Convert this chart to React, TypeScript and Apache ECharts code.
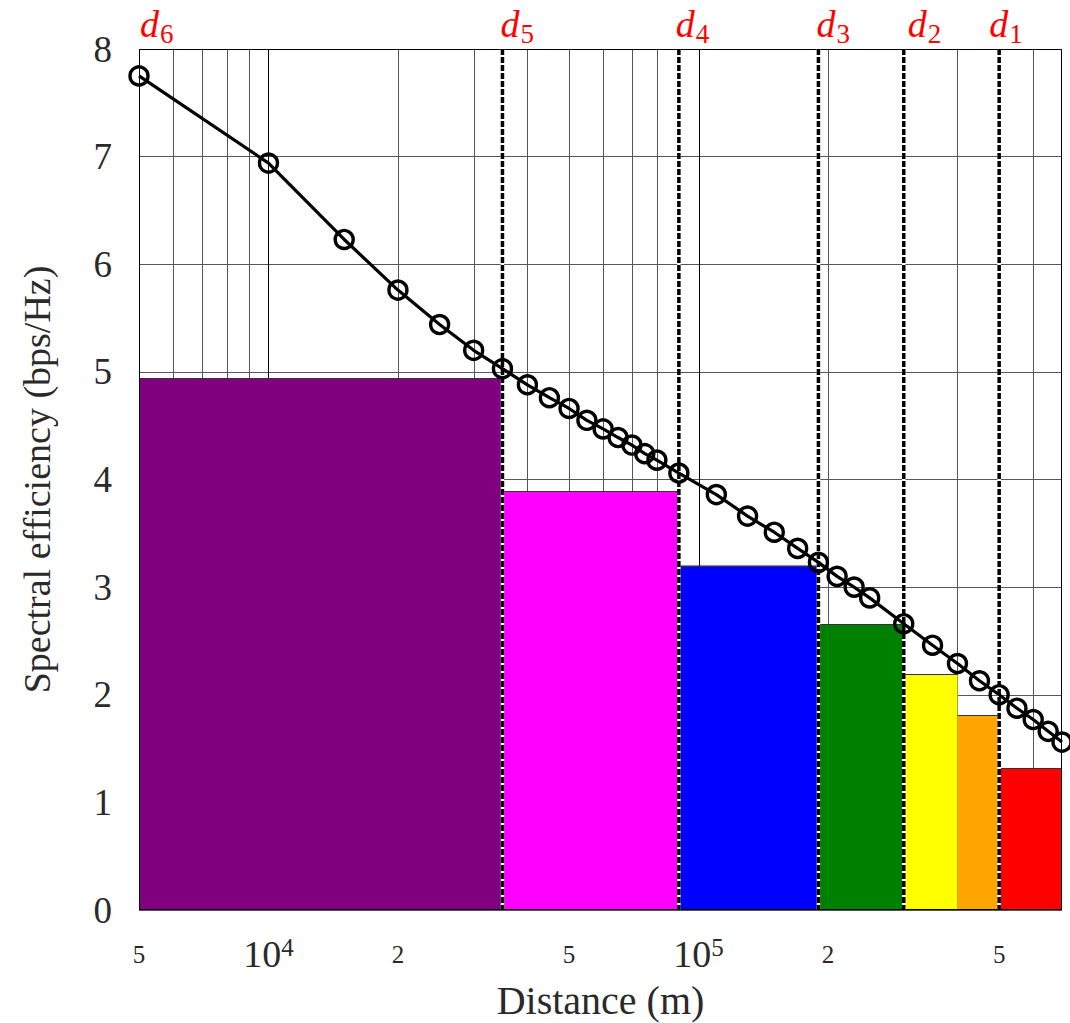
import React, { useEffect, useRef } from 'react';
import * as echarts from 'echarts';

// ---------- data ----------
const X_MIN = 5000;
const X_MAX = 700000;
const Y_MIN = 0;
const Y_MAX = 8;

const curveDistances = [
  5000, 10000, 15000, 20000, 25000, 30000, 35000, 40000, 45000, 50000,
  55000, 60000, 65000, 70000, 75000, 80000, 90000,
  110000, 130000, 150000, 170000, 190000, 210000, 230000, 250000,
  300000, 350000, 400000, 450000, 500000, 550000, 600000, 650000, 700000,
];
const curveEfficiency = [
  7.75, 6.94, 6.23, 5.76, 5.44, 5.2, 5.03, 4.88, 4.76, 4.66,
  4.55, 4.47, 4.39, 4.32, 4.24, 4.18, 4.06,
  3.86, 3.66, 3.51, 3.36, 3.23, 3.1, 3.0, 2.9,
  2.66, 2.46, 2.29, 2.13, 2.0, 1.875, 1.77, 1.66, 1.56,
];

const barStart = [5000, 35000, 90000, 190000, 300000, 400000, 500000];
const barEnd = [35000, 90000, 190000, 300000, 400000, 500000, 700000];
const barHeight = [4.94, 3.89, 3.2, 2.655, 2.19, 1.81, 1.32];
const barColors = ['#800080', '#ff00ff', '#0000ff', '#008000', '#ffff00', '#ffa500', '#ff0000'];

const thresholdNames = ['6', '5', '4', '3', '2', '1'];
const thresholdDistances = [5000, 35000, 90000, 190000, 300000, 500000];
const thresholdLabelDx = [1, -2, -3, -2, 4, -10];

const gridDistances = [
  6000, 7000, 8000, 9000, 10000,
  20000, 30000, 40000, 50000, 60000, 70000, 80000, 90000, 100000,
  200000, 300000, 400000, 500000, 600000,
];
const majorGrid = [10000, 100000];

const xTickValues = [5000, 10000, 20000, 50000, 100000, 200000, 500000];
const xTickTexts = ['5', '10^4', '2', '5', '10^5', '2', '5'];

const FONT = '"Liberation Serif", "Times New Roman", serif';
const TEXT_COLOR = '#2a2a2a';

function tickLabel(v: number): string {
  let best = 0;
  let bestDiff = Infinity;
  xTickValues.forEach((t, i) => {
    const d = Math.abs(Math.log10(v) - Math.log10(t));
    if (d < bestDiff) { bestDiff = d; best = i; }
  });
  const t = xTickTexts[best];
  if (t.indexOf('^') >= 0) {
    const [b, e] = t.split('^');
    return '{b|' + b + '}{s|' + e + '}';
  }
  return '{a|' + t + '}';
}

function measure(text: string, font: string): number {
  const c = document.createElement('canvas');
  const ctx = c.getContext('2d');
  if (!ctx) return 18;
  ctx.font = font;
  return ctx.measureText(text).width;
}

export default function App() {
  const ref = useRef<HTMLDivElement>(null);

  useEffect(() => {
    if (!ref.current) return;
    const chart = echarts.init(ref.current, undefined, { renderer: 'svg' });

    const dFont = 'italic 38px "Liberation Serif"';
    const subFont = '27px "Liberation Serif"';
    const dWidth = measure('d', dFont);

    const option: any = {
      animation: false,
      backgroundColor: '#fff',
      textStyle: { fontFamily: FONT },
      grid: {
        left: 139, top: 49, width: 923, height: 861,
        containLabel: false, outerBoundsMode: 'none',
      },
      xAxis: {
        type: 'log',
        logBase: 10,
        min: X_MIN,
        max: X_MAX,
        axisLine: { show: false },
        axisTick: { show: false },
        splitLine: { show: false },
        minorTick: { show: false },
        axisLabel: {
          customValues: xTickValues,
          formatter: (v: number) => tickLabel(v),
          margin: 25,
          color: TEXT_COLOR,
          rich: {
            a: { fontSize: 25, lineHeight: 38, fontFamily: FONT, color: TEXT_COLOR },
            b: { fontSize: 38, lineHeight: 38, fontFamily: FONT, color: TEXT_COLOR },
            s: { fontSize: 25, lineHeight: 25, fontFamily: FONT, color: TEXT_COLOR, verticalAlign: 'top' },
          },
        },
        name: 'Distance (m)',
        nameLocation: 'middle',
        nameGap: 70,
        nameTextStyle: { fontSize: 40, color: TEXT_COLOR, fontFamily: FONT, lineHeight: 40 },
      },
      yAxis: {
        type: 'value',
        min: Y_MIN,
        max: Y_MAX,
        interval: 1,
        axisLine: { show: false },
        axisTick: { show: false },
        splitLine: { show: true, lineStyle: { color: '#555', width: 1 } },
        axisLabel: { fontSize: 37, color: TEXT_COLOR, margin: 27, fontFamily: FONT },
        name: 'Spectral efficiency (bps/Hz)',
        nameLocation: 'middle',
        nameGap: 83,
        nameTextStyle: { fontSize: 38, color: TEXT_COLOR, fontFamily: FONT },
      },
      series: [
        {
          type: 'custom',
          name: 'grid',
          z: 1,
          silent: true,
          data: gridDistances.map((v) => [v, 0]),
          encode: { x: 0, y: 1 },
          renderItem: (params: any, api: any) => {
            const v = api.value(0);
            const p0 = api.coord([v, Y_MIN]);
            const p1 = api.coord([v, Y_MAX]);
            const x = Math.round(p0[0]) + 0.5;
            const major = majorGrid.indexOf(v) >= 0;
            return {
              type: 'line',
              shape: { x1: x, y1: p0[1], x2: x, y2: p1[1] },
              style: { stroke: major ? '#000' : '#555', lineWidth: 1 },
            };
          },
        },
        {
          type: 'custom',
          name: 'bars',
          z: 2,
          silent: true,
          data: barStart.map((s, i) => [s, barEnd[i], barHeight[i]]),
          encode: { x: [0, 1], y: 2 },
          renderItem: (params: any, api: any) => {
            const x0 = api.value(0);
            const x1 = api.value(1);
            const h = api.value(2);
            const tl = api.coord([x0, h]);
            const br = api.coord([x1, Y_MIN]);
            const top = Math.round(tl[1]) + 0.5;
            return {
              type: 'group',
              children: [
                {
                  type: 'rect',
                  shape: { x: tl[0], y: tl[1], width: br[0] - tl[0], height: br[1] - tl[1] },
                  style: { fill: barColors[params.dataIndex] },
                },
                {
                  type: 'line',
                  shape: { x1: tl[0], y1: top, x2: br[0], y2: top },
                  style: { stroke: '#333', lineWidth: 1 },
                },
              ],
            };
          },
        },
        {
          type: 'custom',
          name: 'frame',
          z: 3,
          silent: true,
          data: [[X_MIN, Y_MIN]],
          encode: { x: 0, y: 1 },
          renderItem: (params: any, api: any) => {
            const a = api.coord([X_MIN, Y_MAX]);
            const b = api.coord([X_MAX, Y_MIN]);
            const x0 = Math.round(a[0]) + 0.5;
            const y0 = Math.round(a[1]) + 0.5;
            const x1 = Math.round(b[0]) - 0.5;
            const y1 = Math.round(b[1]) - 0.5;
            return {
              type: 'rect',
              shape: { x: x0, y: y0, width: x1 - x0, height: y1 - y0 },
              style: { fill: 'none', stroke: '#000', lineWidth: 1 },
            };
          },
        },
        {
          type: 'custom',
          name: 'thresholds',
          z: 4,
          silent: true,
          data: thresholdDistances.map((v, i) => [v, Y_MAX, i]),
          encode: { x: 0, y: 1 },
          renderItem: (params: any, api: any) => {
            const v = api.value(0);
            const i = params.dataIndex;
            const pTop = api.coord([v, Y_MAX]);
            const pBot = api.coord([v, Y_MIN]);
            const x = pTop[0];
            const lx = x + thresholdLabelDx[i];
            const children: any[] = [
              {
                type: 'text',
                x: lx,
                y: 24,
                style: {
                  text: 'd',
                  font: dFont,
                  fill: '#ff0000',
                  align: 'left',
                  verticalAlign: 'middle',
                },
              },
              {
                type: 'text',
                x: lx + dWidth + 1,
                y: 34,
                style: {
                  text: thresholdNames[i],
                  font: subFont,
                  fill: '#ff0000',
                  align: 'left',
                  verticalAlign: 'middle',
                },
              },
            ];
            if (v > X_MIN) {
              children.unshift(
                {
                  type: 'line',
                  shape: { x1: x, y1: pTop[1], x2: x, y2: pBot[1] },
                  style: { stroke: '#fff', lineWidth: 3.5 },
                },
                {
                  type: 'line',
                  shape: { x1: x, y1: pTop[1], x2: x, y2: pBot[1] },
                  style: { stroke: '#000', lineWidth: 3.5, lineDash: [6, 2] },
                }
              );
            }
            return { type: 'group', children };
          },
        },
        {
          type: 'line',
          name: 'efficiency',
          z: 6,
          clip: false,
          data: curveDistances.map((d, i) => [d, curveEfficiency[i]]),
          symbol: 'circle',
          symbolSize: 18,
          showAllSymbol: true,
          lineStyle: { color: '#000', width: 3.2 },
          itemStyle: { color: 'rgba(0,0,0,0)', borderColor: '#000', borderWidth: 3.4 },
        },
      ],
    };

    chart.setOption(option);
    return () => {
      chart.dispose();
    };
  }, []);

  return (
    <div
      ref={ref}
      style={{ position: 'fixed', left: 0, top: 0, width: 1070, height: 1023, background: '#fff' }}
    />
  );
}
